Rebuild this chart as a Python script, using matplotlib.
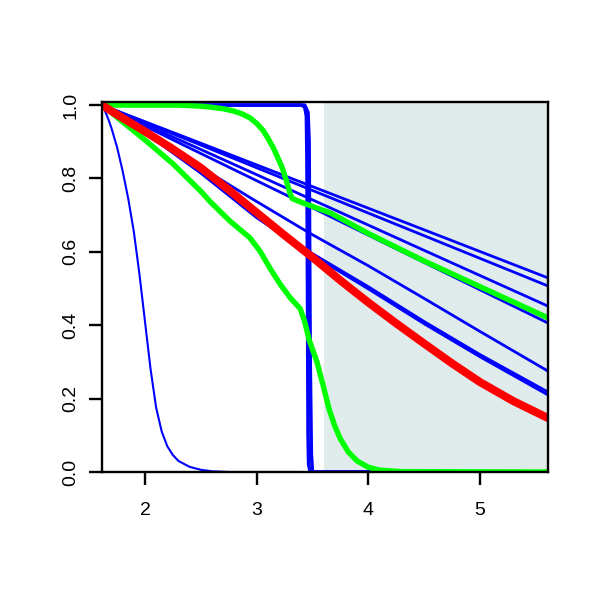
import numpy as np
import matplotlib
matplotlib.use("Agg")
import matplotlib.pyplot as plt

plt.rcParams['font.family'] = ['Liberation Sans', 'DejaVu Sans']

# blue curves, each as (x, y)
steep_x = [1.615, 1.64, 1.67, 1.70, 1.75, 1.80, 1.85, 1.90, 1.95, 2.00, 2.05, 2.10, 2.15, 2.20, 2.25,
           2.30, 2.40, 2.50, 2.60, 2.75, 3.40]
steep_y = [1.0, 0.985, 0.963, 0.937, 0.885, 0.82, 0.745, 0.655, 0.54, 0.41, 0.28, 0.175, 0.11, 0.07, 0.046,
           0.03, 0.014, 0.006, 0.002, 0.0, 0.0]

step1_x = [1.615, 3.40, 3.43, 3.445, 3.45, 3.455, 3.46, 3.465, 3.48, 5.61]
step1_y = [1.0, 1.0, 0.995, 0.97, 0.85, 0.5, 0.1, 0.02, 0.0, 0.0]
step2_x = [1.615, 3.43, 3.46, 3.47, 3.48, 3.49, 3.50, 5.61]
step2_y = [1.0, 1.0, 0.98, 0.9, 0.3, 0.05, 0.0, 0.0]

lin_x = [1.615, 2.5, 3.6, 4.5, 5.609]
line_a = [1.0, 0.896, 0.766, 0.660, 0.529]
line_b = [1.0, 0.891, 0.755, 0.644, 0.507]
line_c = [1.0, 0.879, 0.728, 0.604, 0.452]
line_d = [1.0, 0.868, 0.705, 0.571, 0.406]

line_e_x = [1.615, 2.3, 2.94, 3.48, 4.0, 4.5, 5.0, 5.609]
line_e_y = [1.0, 0.868, 0.748, 0.65, 0.562, 0.473, 0.383, 0.275]

line_f_x = [1.615, 2.0, 2.5, 3.0, 3.5, 4.0, 4.5, 5.0, 5.609]
line_f1 = [1.0, 0.925, 0.815, 0.695, 0.595, 0.505, 0.41, 0.32, 0.218]
line_f2 = [1.0, 0.925, 0.815, 0.693, 0.591, 0.499, 0.404, 0.314, 0.21]

# green curves
green_up_x = [1.615, 2.3, 2.5, 2.6, 2.7, 2.79, 2.87, 2.94, 3.0, 3.06, 3.10, 3.15, 3.19, 3.23, 3.27, 3.30,
              3.32, 3.40, 3.66, 4.0, 4.5, 5.0, 5.609]
green_up_y = [1.0, 1.0, 0.997, 0.994, 0.99, 0.984, 0.976, 0.965, 0.95, 0.93, 0.91, 0.883, 0.856, 0.828, 0.79,
              0.758, 0.745, 0.735, 0.706, 0.65, 0.575, 0.505, 0.42]

green_lo_x = [1.615, 2.0, 2.25, 2.5, 2.58, 2.76, 2.94, 3.03, 3.12, 3.21, 3.30, 3.39, 3.43, 3.47, 3.54,
              3.60, 3.65, 3.70, 3.75, 3.82, 3.90, 4.0, 4.1, 4.3, 5.609]
green_lo_y = [1.0, 0.905, 0.84, 0.765, 0.738, 0.684, 0.638, 0.602, 0.555, 0.512, 0.475, 0.445, 0.41, 0.36, 0.30,
              0.23, 0.17, 0.125, 0.09, 0.055, 0.03, 0.013, 0.005, 0.001, 0.0]

# red curve
red_x = [1.615, 1.75, 2.0, 2.25, 2.5, 2.75, 3.0, 3.25, 3.5, 3.75, 4.0, 4.25, 4.5, 4.75, 5.0, 5.3, 5.609]
red_y = [1.0, 0.974, 0.928, 0.88, 0.829, 0.769, 0.707, 0.645, 0.585, 0.522, 0.462, 0.405, 0.35, 0.296,
         0.245, 0.193, 0.147]

shade_start = 3.6
xlim = (1.615, 5.609)

fig = plt.figure(figsize=(6, 6), dpi=100)
ax = fig.add_axes([102/600, 128/600, 446/600, 369.5/600])

ax.axvspan(shade_start, xlim[1], color='#e0ecec', zorder=0.5, lw=0)

blue = '#0000ff'
ax.plot(steep_x, steep_y, color=blue, lw=1.5)
ax.plot(step1_x, step1_y, color=blue, lw=2.5)
ax.plot(step2_x, step2_y, color=blue, lw=2.5)
for ys in [line_a, line_b, line_c, line_d]:
    ax.plot(lin_x, ys, color=blue, lw=2.0)
ax.plot(line_e_x, line_e_y, color=blue, lw=2.0)
ax.plot(line_f_x, line_f1, color=blue, lw=2.0)
ax.plot(line_f_x, line_f2, color=blue, lw=2.0)

ax.plot(green_up_x, green_up_y, color='#00ff00', lw=3.9)
ax.plot(green_lo_x, green_lo_y, color='#00ff00', lw=3.9)
ax.plot(red_x, red_y, color='#ff0000', lw=5.8)

ax.set_xlim(*xlim)
ax.set_ylim(0, 1.007)
ax.set_xticks([2, 3, 4, 5])
ax.set_yticks([0, 0.2, 0.4, 0.6, 0.8, 1.0])
ax.set_yticklabels(['0.0', '0.2', '0.4', '0.6', '0.8', '1.0'])
ax.tick_params(length=9.5, width=1.7, labelsize=14)
ax.tick_params(axis='x', pad=12)
ax.tick_params(axis='y', pad=7)
for lab in ax.get_yticklabels():
    lab.set_rotation(90)
    lab.set_va('center')
for sp in ax.spines.values():
    sp.set_linewidth(1.7)

fig.savefig('out.png', dpi=100)
